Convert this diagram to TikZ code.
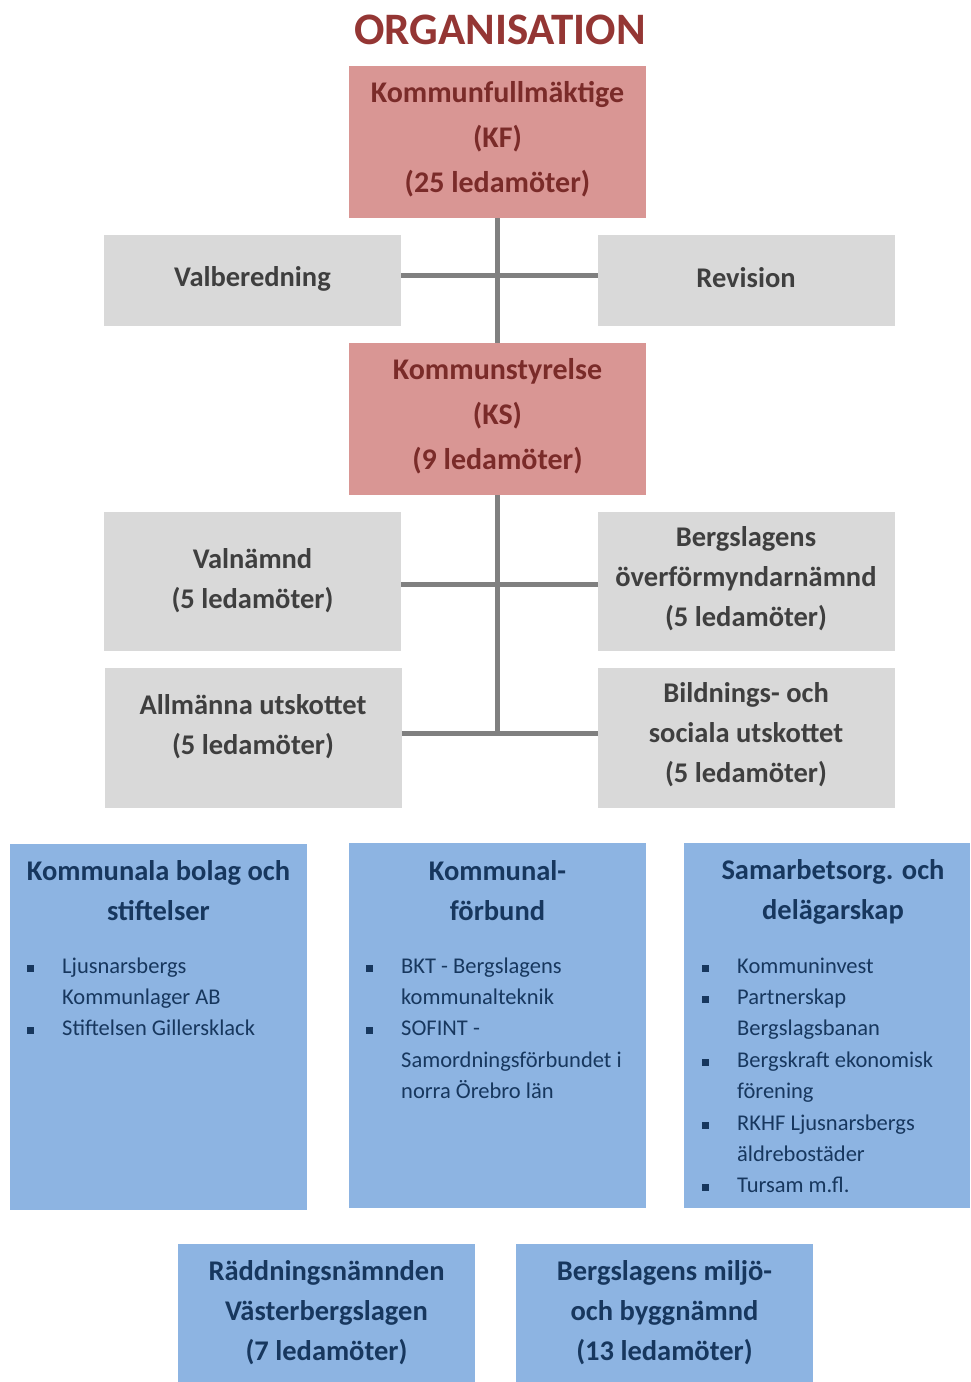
\documentclass[tikz,border=0pt]{standalone}
\usepackage{fontspec}
\setmainfont{Carlito}
\definecolor{pinkfill}{HTML}{D99694}
\definecolor{pinktext}{HTML}{7A2B29}
\definecolor{titletext}{HTML}{943634}
\definecolor{grayfill}{HTML}{D9D9D9}
\definecolor{graytext}{HTML}{3F3F3F}
\definecolor{bluefill}{HTML}{8DB4E2}
\definecolor{bluetext}{HTML}{17375E}
\definecolor{linegray}{HTML}{808080}
\newcommand\bitem{\makebox[35pt][l]{\rule[1.6pt]{7pt}{7pt}}}
\newcommand\bcont{\hspace*{35pt}}
\begin{document}
\begin{tikzpicture}[x=1pt,y=-1pt,
  box/.style={draw=none,inner sep=0,outer sep=0},
  pinkbox/.style={box,fill=pinkfill,minimum width=297pt,minimum height=152pt},
  graybox/.style={box,fill=grayfill,minimum width=297pt},
  bluebox/.style={box,fill=bluefill},
  pinktxt/.style={inner sep=0,align=center,text=pinktext,font=\fontsize{30}{45}\selectfont\bfseries},
  graytxt/.style={inner sep=0,align=center,text=graytext,font=\fontsize{28.5}{40}\selectfont\bfseries},
  bluetxt/.style={inner sep=0,align=center,text=bluetext,font=\fontsize{28.5}{40}\selectfont\bfseries},
  listtxt/.style={inner sep=0,align=left,anchor=north west,text=bluetext,font=\fontsize{22.5}{31.4}\selectfont},
  conn/.style={draw=linegray,line width=5pt}]
\useasboundingbox (0,0) rectangle (970,1382);
% title
\node[inner sep=0,text=titletext,font=\fontsize{45}{50}\selectfont\bfseries] (title) at (500,30) {ORGANISATION};
% red boxes
\node[pinkbox] (kf) at (497.5,142) {};
\node[pinktxt] (kft) at (497.5,139) {Kommunfullmäktige\\(KF)\\(25 ledamöter)};
\node[pinkbox] (ks) at (497.5,419) {};
\node[pinktxt] (kst) at (497.5,416) {Kommunstyrelse\\(KS)\\(9 ledamöter)};
% gray boxes
\node[graybox,minimum height=91pt] (valb) at (252.5,280.5) {};
\node[graytxt] (valbt) at (252.5,279) {Valberedning};
\node[graybox,minimum height=91pt] (rev) at (746,280.5) {};
\node[graytxt] (revt) at (746,278) {Revision};
\node[graybox,minimum height=139pt] (valn) at (252.5,581.5) {};
\node[graytxt] (valnt) at (252.5,580.5) {Valnämnd\\(5 ledamöter)};
\node[graybox,minimum height=139pt] (berg) at (746,581.5) {};
\node[graytxt] (bergt) at (746,578.5) {Bergslagens\\överförmyndarnämnd\\(5 ledamöter)};
\node[graybox,minimum height=140pt] (allm) at (253,738) {};
\node[graytxt] (allmt) at (253,727) {Allmänna utskottet\\(5 ledamöter)};
\node[graybox,minimum height=140pt] (bild) at (746,738) {};
\node[graytxt] (bildt) at (746,735) {Bildnings- och\\sociala utskottet\\(5 ledamöter)};
% connectors
\coordinate (j0) at (497.5,275);
\coordinate (j1) at (497.5,584);
\coordinate (j2) at (497.5,733);
\draw[conn] (kf.south) -- (ks.north);
\draw[conn] (valb.east |- j0) -- (rev.west |- j0);
\draw[conn] (ks.south) -- (j2);
\draw[conn] (valn.east |- j1) -- (berg.west |- j1);
\draw[conn] (allm.east |- j2) -- (bild.west |- j2);
% blue boxes
\node[bluebox,minimum width=297pt,minimum height=366pt] (bolag) at (158.5,1027) {};
\node[bluetxt] (bolagt) at (158.5,891) {Kommunala bolag och\\stiftelser};
\node[listtxt] (bolagl) at (27,951) {\strut\bitem Ljusnarsbergs\\\bcont Kommunlager AB\\\bitem Stiftelsen Gillersklack};
\node[bluebox,minimum width=297pt,minimum height=365pt] (forb) at (497.5,1025.5) {};
\node[bluetxt] (forbt) at (497.5,891) {Kommunal-\\förbund};
\node[listtxt] (forbl) at (366,951) {\strut\bitem BKT - Bergslagens\\\bcont kommunalteknik\\\bitem SOFINT -\\\bcont Samordningsförbundet i\\\bcont norra Örebro län};
\node[bluebox,minimum width=286pt,minimum height=365pt] (samb) at (827,1025.5) {};
\node[bluetxt] (sambt) at (833,892) {Samarbetsorg. och\\delägarskap};
\node[listtxt] (sambl) at (702,951) {\strut\bitem Kommuninvest\\\bitem Partnerskap\\\bcont Bergslagsbanan\\\bitem Bergskraft ekonomisk\\\bcont förening\\\bitem RKHF Ljusnarsbergs\\\bcont äldrebostäder\\\bitem Tursam m.fl.};
\node[bluebox,minimum width=297pt,minimum height=138pt] (radd) at (326.5,1313) {};
\node[bluetxt] (raddt) at (326.5,1312.5) {Räddningsnämnden\\Västerbergslagen\\(7 ledamöter)};
\node[bluebox,minimum width=297pt,minimum height=138pt] (miljo) at (664.5,1313) {};
\node[bluetxt] (miljot) at (664.5,1312.5) {Bergslagens miljö-\\och byggnämnd\\(13 ledamöter)};
\end{tikzpicture}
\end{document}
